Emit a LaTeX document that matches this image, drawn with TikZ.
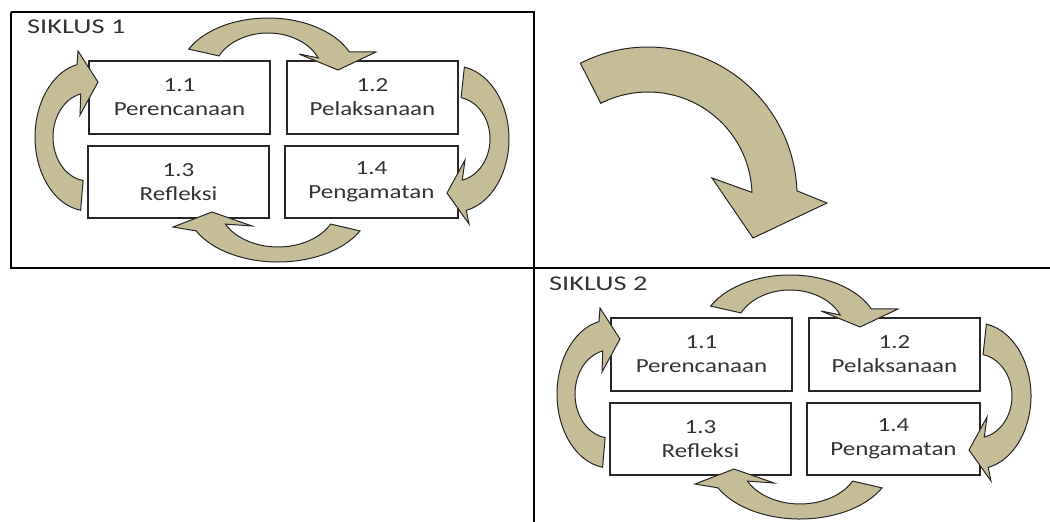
\documentclass[tikz,border=0pt]{standalone}
\usepackage{fontspec}
\newfontfamily\stagefont[FakeStretch=1.25]{Carlito}
\newfontfamily\titlefont[FakeStretch=1.35]{Carlito}
\usetikzlibrary{calc}
\definecolor{turnfill}{RGB}{196,189,151}

% curved block arrow: centre, outer radii, inner radii, start, end, outer wing, tip, inner wing
\newcommand{\cyclearrow}[8]{%
  \filldraw[cyclearr] (#1) ++(#4:#2) arc (#4:#5:#2) -- (#6) -- (#7) -- (#8)
    -- ($(#1)+(#5:#3)$) arc (#5:#4:#3) -- cycle;}

\begin{document}
\begin{tikzpicture}[x=1pt, y=-1pt,
  stage/.style={draw=black!85, line width=1.6pt, fill=white, minimum height=73pt,
    inner sep=0pt, align=center, text=black!80, font=\stagefont\fontsize{20}{24}\selectfont},
  siklustitle/.style={anchor=base west, inner sep=0pt, text=black!80,
    font=\titlefont\fontsize{21}{24}\selectfont},
  cyclearr/.style={fill=turnfill, draw=black!85, line width=1pt, line join=miter}]
  \useasboundingbox (0,0) rectangle (1050,522);

  % table lines
  \draw[line width=1.3pt] (11,12) -- (534,12) -- (534,522);
  \draw[line width=1.3pt] (11,12) -- (11,268) -- (1050,268);

  % the two cycles
  \foreach \dx/\dy/\cyc in {0/0/1, 522/257/2} {
    \begin{scope}[shift={(\dx,\dy)}]
      \node[siklustitle] (title\cyc) at (27,33) {SIKLUS \cyc};
      \node[stage, minimum width=181pt] (plan\cyc) at (179.5,97.5) {1.1\\Perencanaan};
      \node[stage, minimum width=171pt] (act\cyc) at (372.5,97.5) {1.2\\Pelaksanaan};
      \node[stage, minimum width=181pt, minimum height=72pt] (refl\cyc) at (178.5,182) {1.3\\Refleksi};
      \node[stage, minimum width=173pt, minimum height=72pt] (obs\cyc) at (371.5,182) {1.4\\Pengamatan};

      \cyclearrow{268,75}{89 and 57}{55 and 42}{207}{336}{376,52}{338,70}{299,54}
      \cyclearrow{455,139}{54 and 73}{35 and 42}{-80}{78}{469,224}{447,193}{465,160}
      \cyclearrow{278,205}{92 and 57}{59 and 42}{27}{153}{173,227}{212,212}{252,226}
      \cyclearrow{88,137}{53 and 74}{35 and 44}{98}{258}{78,51}{98,82}{80,115}
    \end{scope}
  }

  % from cycle 1 to cycle 2
  \cyclearrow{648,196}{149 and 149}{104 and 104}{243}{358}{827,203}{753,238}{712,178}
\end{tikzpicture}
\end{document}
